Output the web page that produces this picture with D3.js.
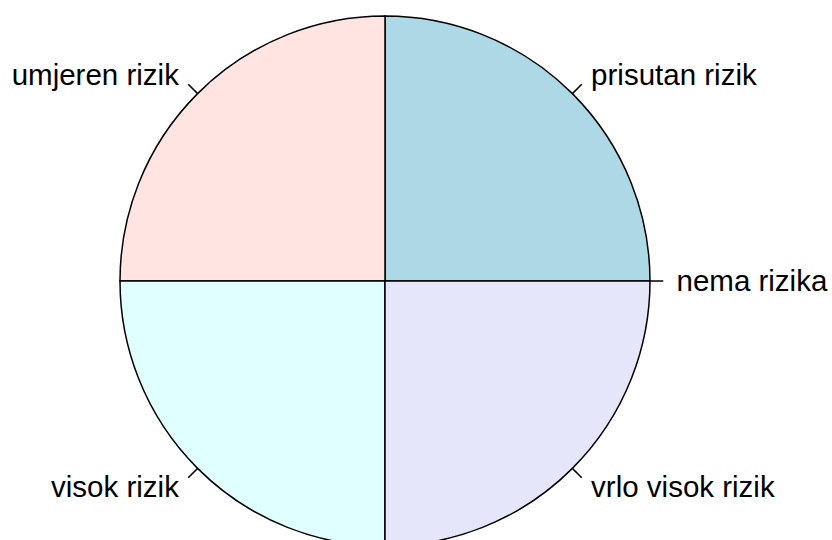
<!DOCTYPE html>
<html><head><meta charset="utf-8">
<script src="https://cdn.jsdelivr.net/npm/d3@7"></script>
<style>body{margin:0;background:#fff}svg{display:block}</style>
</head><body>
<svg id="c" width="832" height="540"></svg>
<script>
const labels = ["nema rizika","prisutan rizik","umjeren rizik","visok rizik","vrlo visok rizik"];
const values = [0, 25, 25, 25, 25];
const colors = ["#FFFFFF","#ADD8E6","#FFE4E1","#E0FFFF","#E6E6FA"];

const svg = d3.select("#c");
const cx = 385, cy = 281, R = 265;
const g = svg.append("g").attr("transform", `translate(${cx},${cy})`);

const total = d3.sum(values);
const ang = d3.scaleLinear().domain([0, total]).range([0, 2*Math.PI]);
let cum = 0;
const slices = values.map((v,i)=>{ const s={i, a0:ang(cum), a1:ang(cum+v)}; cum+=v; return s; });

const arc = d3.arc().innerRadius(0).outerRadius(R);
slices.forEach(s=>{
  if (s.a1 - s.a0 <= 0) return;
  const d0 = Math.PI/2 - s.a1, d1 = Math.PI/2 - s.a0;
  g.append("path").attr("d", arc({startAngle:d0, endAngle:d1}))
    .attr("fill", colors[s.i]).attr("stroke","#000").attr("stroke-width",1.5);
});

slices.forEach(s=>{
  const m = (s.a0 + s.a1)/2;
  const c = Math.cos(m), sn = Math.sin(m);
  g.append("line").attr("x1", R*c).attr("y1", -R*sn).attr("x2", 1.05*R*c).attr("y2", -1.05*R*sn)
    .attr("stroke","#000").attr("stroke-width",1.5);
  g.append("text").attr("x", 1.1*R*c).attr("y", -1.1*R*sn).attr("dy","0.35em")
    .attr("text-anchor", c > 0 ? "start" : "end")
    .attr("font-family","Liberation Sans, Arial, sans-serif").attr("font-size", 29.5)
    .attr("fill","#000").text(labels[s.i]);
});
</script>
</body></html>
